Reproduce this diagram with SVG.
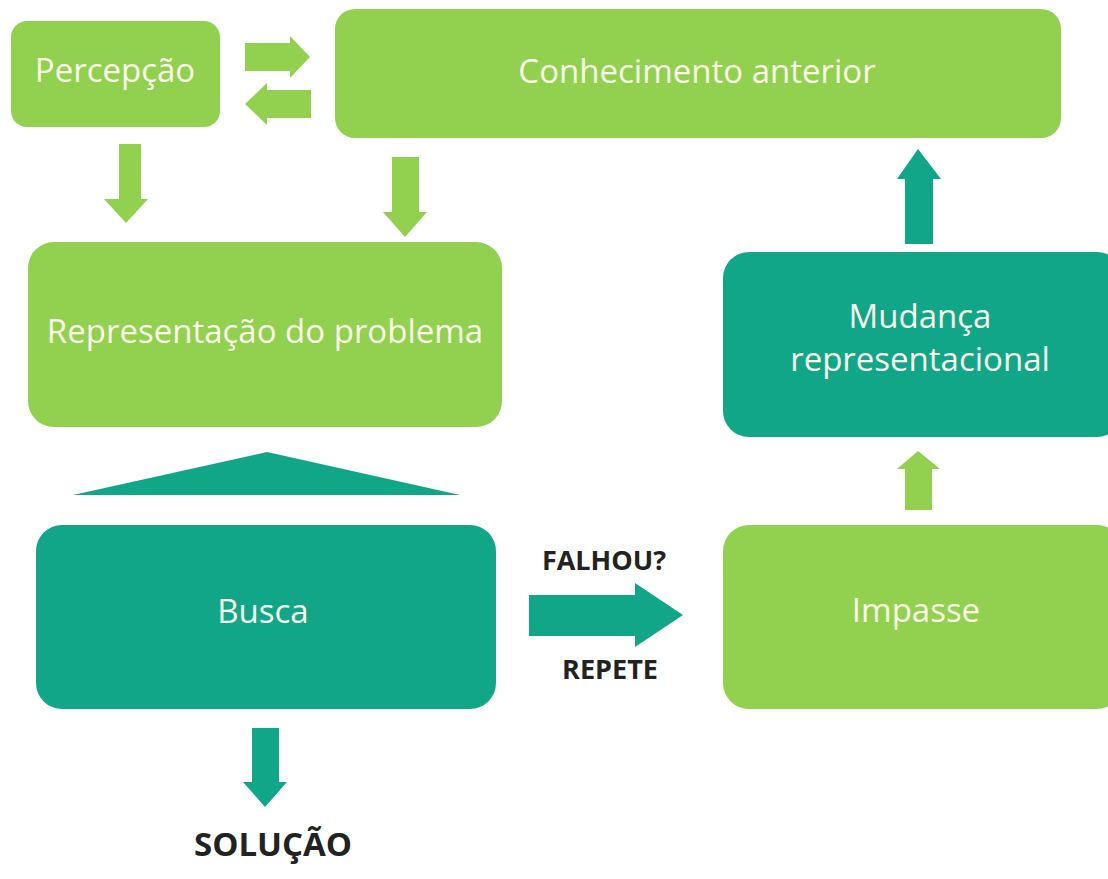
<svg xmlns="http://www.w3.org/2000/svg" width="1108" height="879" viewBox="0 0 1108 879">
<style>
.lg{fill:#92d050}
.tl{fill:#11a688}
.lbl{font-family:"Open Sans","Liberation Sans",sans-serif;font-size:33px;fill:#fafbe8;text-anchor:middle}
.bold{font-family:"Open Sans","Liberation Sans",sans-serif;font-weight:bold;fill:#222;text-anchor:middle}
</style>
<rect width="1108" height="879" fill="#fff"/>
<g id="percepcao"><rect class="lg" x="11" y="21" width="209" height="106" rx="16"/><text class="lbl" x="115" y="82" font-size="32">Percepção</text></g>
<g id="conhecimento"><rect class="lg" x="335" y="9" width="726" height="129" rx="20"/><text class="lbl" x="697" y="83">Conhecimento anterior</text></g>
<g id="representacao"><rect class="lg" x="28" y="242" width="474" height="185" rx="26"/><text class="lbl" x="265" y="343">Representação do problema</text></g>
<g id="mudanca"><rect class="tl" x="723" y="252" width="400" height="185" rx="26"/><text class="lbl" x="920" y="328">Mudança</text><text class="lbl" x="920" y="371">representacional</text></g>
<g id="busca"><rect class="tl" x="36" y="525" width="460" height="184" rx="26"/><text class="lbl" x="263" y="623">Busca</text></g>
<g id="impasse"><rect class="lg" x="723" y="525" width="400" height="184" rx="26"/><text class="lbl" x="916" y="622">Impasse</text></g>
<g id="connectors">
<polygon class="lg" points="245,43 290,43 290,36 310,57 290,78 290,71 245,71"/>
<polygon class="lg" points="311,90 267,90 267,83 245,104 267,125 267,118 311,118"/>
<polygon class="lg" points="119,144 141,144 141,199 148,199 126,223 104,199 119,199"/>
<polygon class="lg" points="392,157 419,157 419,212 427,212 405,237 383,212 392,212"/>
<polygon class="tl" points="905,244 933,244 933,179 941,179 918,149 897,179 905,179"/>
<polygon class="lg" points="905,510 932,510 932,469 940,469 918,451 897,469 905,469"/>
<polygon class="tl" points="73,495 460,495 267,452"/>
<polygon class="tl" points="529,595 635,595 635,583 683,615 635,647 635,636 529,636"/>
<polygon class="tl" points="252,728 279,728 279,782 287,782 265,807 243,782 252,782"/>
</g>
<text class="bold" x="604" y="570" font-size="27">FALHOU?</text>
<text class="bold" x="610" y="679" font-size="27">REPETE</text>
<text class="bold" x="273" y="856" font-size="33">SOLUÇÃO</text>
</svg>
